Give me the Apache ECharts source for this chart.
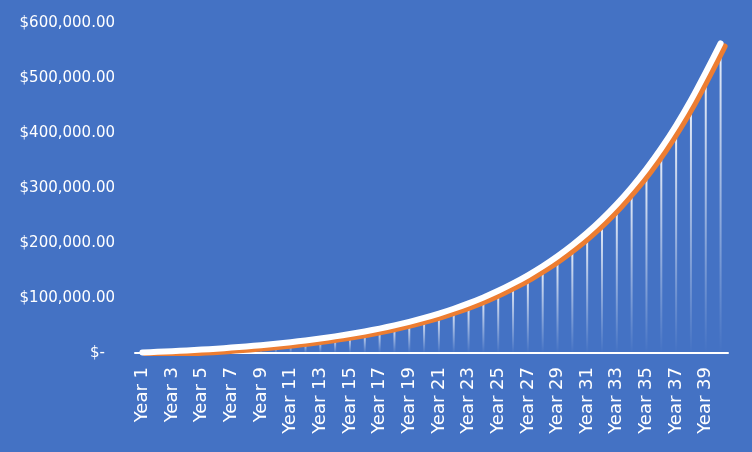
<!DOCTYPE html>
<html>
<head>
<meta charset="utf-8">
<script src="https://cdn.jsdelivr.net/npm/echarts@6/dist/echarts.min.js"></script>
<style>
html,body{margin:0;padding:0;background:#4472C4;}
#chart{width:752px;height:452px;}
</style>
</head>
<body>
<div id="chart"></div>
<script>
const years = [];
for (let i = 1; i <= 40; i++) years.push('Year ' + i);

const balance = [
  1000, 2100, 3300, 4700, 6200, 7900, 9800, 11900, 14200, 16800,
  19700, 22800, 26300, 30200, 34500, 39200, 44400, 50200, 56600, 63800,
  71700, 80500, 90300, 101100, 113100, 126500, 141300, 157700, 175900, 196100,
  218400, 243200, 270700, 301100, 334800, 372200, 413600, 459500, 510200, 563000
];

const yTicks = { min: 0, max: 600000, interval: 100000 };

const chart = echarts.init(document.getElementById('chart'), null, { renderer: 'canvas' });
const FONT = 'DejaVu Sans';

chart.setOption({
  backgroundColor: '#4472C4',
  animation: false,
  grid: { left: 135, right: 24, top: 23, bottom: 99, containLabel: false },
  xAxis: {
    type: 'category',
    data: years,
    boundaryGap: true,
    axisLine: { show: true, lineStyle: { color: '#FFFFFF', width: 2 } },
    axisTick: { show: false },
    axisLabel: {
      interval: 1,
      rotate: 90,
      color: '#FFFFFF',
      fontFamily: FONT,
      fontSize: 18,
      margin: 14
    },
    splitLine: { show: false }
  },
  yAxis: {
    type: 'value',
    min: yTicks.min,
    max: yTicks.max,
    interval: yTicks.interval,
    axisLine: { show: false },
    axisTick: { show: false },
    splitLine: { show: false },
    axisLabel: {
      color: '#FFFFFF',
      fontFamily: FONT,
      fontSize: 15,
      margin: 20,
      formatter: function (v) {
        if (v === 0) return '{z|$-}';
        return '$' + v.toLocaleString('en-US', { minimumFractionDigits: 2, maximumFractionDigits: 2 });
      },
      rich: {
        z: { color: '#FFFFFF', fontFamily: FONT, fontSize: 15, padding: [0, 10, 0, 0] }
      }
    }
  },
  series: [
    {
      type: 'bar',
      data: balance,
      barWidth: 2,
      silent: true,
      itemStyle: {
        color: new echarts.graphic.LinearGradient(0, 0, 0, 1, [
          { offset: 0, color: 'rgba(255,255,255,0.9)' },
          { offset: 1, color: 'rgba(255,255,255,0)' }
        ])
      }
    },
    {
      type: 'line',
      data: balance,
      showSymbol: false,
      symbol: 'none',
      smooth: 0.2,
      lineStyle: {
        color: '#FFFFFF',
        width: 6,
        cap: 'round',
        join: 'round',
        shadowColor: '#ED7D31',
        shadowBlur: 0,
        shadowOffsetX: 4,
        shadowOffsetY: 3
      }
    }
  ]
});
</script>
</body>
</html>
